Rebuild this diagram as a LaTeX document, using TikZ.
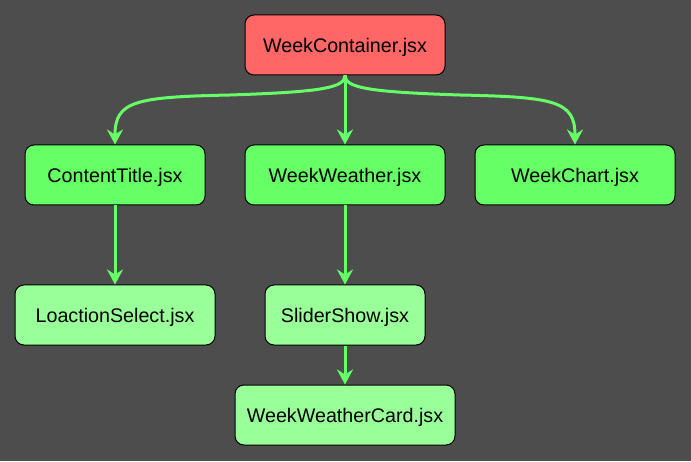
\documentclass[tikz,border=0pt]{standalone}
\usepackage{fontspec}
\setmainfont{Liberation Sans}
\usetikzlibrary{arrows.meta}
\definecolor{bggray}{HTML}{4D4D4D}
\definecolor{rootred}{HTML}{FF6666}
\definecolor{midgreen}{HTML}{66FF66}
\definecolor{leafgreen}{HTML}{99FF99}

\begin{document}
\begin{tikzpicture}[x=1pt, y=1pt,
    file/.style={draw=black, line width=1pt, rounded corners=9pt, inner sep=0pt,
      minimum height=60pt, text depth=0pt, font=\fontsize{19.7}{24}\selectfont},
    link/.style={draw=midgreen, line width=3pt,
      -{Stealth[length=15pt, width=16pt, inset=5pt]}}]
  \fill[bggray] (0,0) rectangle (691,461);

  \node[file, fill=rootred, minimum width=200pt] (1) at (345,416) {WeekContainer.jsx};
  \node[file, fill=midgreen, minimum width=180pt] (2) at (115,286) {ContentTitle.jsx};
  \node[file, fill=midgreen, minimum width=200pt] (3) at (345,286) {WeekWeather.jsx};
  \node[file, fill=midgreen, minimum width=200pt] (4) at (575,286) {WeekChart.jsx};
  \node[file, fill=leafgreen, minimum width=200pt] (5) at (115,146) {LoactionSelect.jsx};
  \node[file, fill=leafgreen, minimum width=160pt] (6) at (345,146) {SliderShow.jsx};
  \node[file, fill=leafgreen, minimum width=220pt] (7) at (345,46) {WeekWeatherCard.jsx};

  \draw[link] (1.south) .. controls (345,373) and (320,369) .. (230,366)
    .. controls (135,364) and (115,360) .. (2.north);
  \draw[link] (1.south) .. controls (345,373) and (370,369) .. (460,366)
    .. controls (555,364) and (575,360) .. (4.north);
  \draw[link] (1.south) -- (3.north);
  \draw[link] (2.south) -- (5.north);
  \draw[link] (3.south) -- (6.north);
  \draw[link] (6.south) -- (7.north);
\end{tikzpicture}
\end{document}
